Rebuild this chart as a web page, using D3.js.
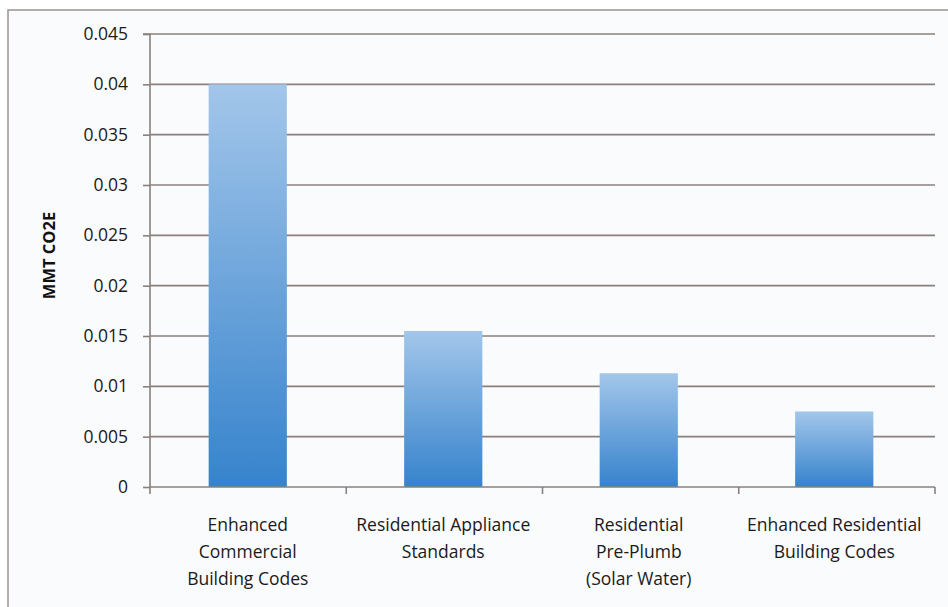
<!DOCTYPE html>
<html>
<head>
<meta charset="utf-8">
<script src="https://cdn.jsdelivr.net/npm/d3@7"></script>
<style>
  html, body { margin: 0; padding: 0; background: #ffffff; }
  svg { display: block; }
</style>
</head>
<body>
<svg id="chart" width="948" height="607"></svg>
<script>
// Emission reductions by policy measure (MMT CO2E)
const categories = [
  ["Enhanced", "Commercial", "Building Codes"],
  ["Residential Appliance", "Standards"],
  ["Residential", "Pre-Plumb", "(Solar Water)"],
  ["Enhanced Residential", "Building Codes"]
];
const values = [0.0400, 0.0155, 0.0113, 0.0075];
const yTicks = [0, 0.005, 0.01, 0.015, 0.02, 0.025, 0.03, 0.035, 0.04, 0.045];
const yTickLabels = ["0", "0.005", "0.01", "0.015", "0.02", "0.025", "0.03", "0.035", "0.04", "0.045"];
const yTitle = "MMT CO2E";

const svg = d3.select("#chart");
const W = 948, H = 607;
const m = { left: 150, right: 13, top: 34, bottom: 120 };
const font = "'Open Sans', 'Noto Sans', sans-serif";
const gridColor = "#8a807b";

// chart frame (open on the right and bottom edges of the canvas)
svg.append("rect")
  .attr("x", 8).attr("y", 10)
  .attr("width", W + 10).attr("height", H + 10)
  .attr("fill", "#fafbfd")
  .attr("stroke", "#a39994").attr("stroke-width", 1.6);

const x0 = m.left, x1 = W - m.right;

const x = d3.scaleBand()
  .domain(d3.range(categories.length))
  .range([x0, x1 - 3])
  .paddingInner(0.6).paddingOuter(0.3);

const y = d3.scaleLinear().domain([0, 0.045]).range([487, m.top]);

// bar gradient: lighter at the top, deeper blue at the base
const defs = svg.append("defs");
const grad = defs.append("linearGradient")
  .attr("id", "barGrad").attr("x1", 0).attr("y1", 0).attr("x2", 0).attr("y2", 1);
grad.append("stop").attr("offset", "0%").attr("stop-color", "#a3c6ea");
grad.append("stop").attr("offset", "100%").attr("stop-color", "#3683cc");

// horizontal gridlines
svg.append("g").selectAll("line")
  .data(yTicks.filter(d => d > 0))
  .join("line")
  .attr("x1", x0).attr("x2", x1)
  .attr("y1", d => y(d)).attr("y2", d => y(d))
  .attr("stroke", gridColor).attr("stroke-width", 1.6);

// bars
svg.append("g").selectAll("rect")
  .data(values)
  .join("rect")
  .attr("x", (d, i) => x(i))
  .attr("width", x.bandwidth())
  .attr("y", d => y(d))
  .attr("height", d => y(0) - y(d))
  .attr("fill", "url(#barGrad)");

// y axis
const yAxis = d3.axisLeft(y)
  .tickValues(yTicks)
  .tickFormat((d, i) => yTickLabels[i])
  .tickSize(7).tickPadding(15);
const gy = svg.append("g").attr("transform", `translate(${x0},0)`).call(yAxis);
gy.select(".domain").attr("stroke", gridColor).attr("stroke-width", 1.6)
  .attr("d", `M-7,${y(0.045)}H0V${y(0)}`);
gy.selectAll(".tick line").attr("stroke", gridColor).attr("stroke-width", 1.6);
gy.selectAll(".tick text")
  .attr("font-family", font).attr("font-size", 17.5)
  .attr("fill", "#1a1a1a");

// x axis baseline with category boundary ticks
const baseline = svg.append("g");
baseline.append("line")
  .attr("x1", x0).attr("x2", x1)
  .attr("y1", y(0)).attr("y2", y(0))
  .attr("stroke", gridColor).attr("stroke-width", 1.6);
baseline.selectAll("line.tk")
  .data(d3.range(categories.length + 1))
  .join("line").attr("class", "tk")
  .attr("x1", i => x0 + i * (x1 - x0) / categories.length)
  .attr("x2", i => x0 + i * (x1 - x0) / categories.length)
  .attr("y1", y(0)).attr("y2", y(0) + 7)
  .attr("stroke", gridColor).attr("stroke-width", 1.6);

// category labels
const lab = svg.append("g").selectAll("text")
  .data(categories)
  .join("text")
  .attr("font-family", font).attr("font-size", 17.5)
  .attr("fill", "#1a1a1a")
  .attr("text-anchor", "middle");
lab.selectAll("tspan")
  .data((d, i) => d.map(t => ({ t, i })))
  .join("tspan")
  .attr("x", d => x(d.i) + x.bandwidth() / 2)
  .attr("y", (d, j) => 531 + j * 27)
  .text(d => d.t);

// y axis title
svg.append("text")
  .attr("transform", `translate(55,${(y(0) + y(0.045)) / 2 - 5}) rotate(-90)`)
  .attr("text-anchor", "middle")
  .attr("font-family", font).attr("font-size", 16.5).attr("font-weight", "bold")
  .attr("fill", "#111")
  .text(yTitle);
</script>
</body>
</html>
